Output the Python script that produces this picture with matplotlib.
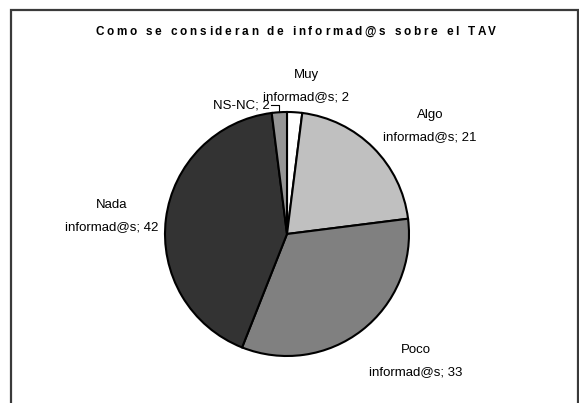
import numpy as np
import matplotlib
matplotlib.use("Agg")
import matplotlib.pyplot as plt
from matplotlib.patches import Rectangle
from matplotlib.font_manager import FontProperties

plt.rcParams['font.family'] = ['Liberation Sans', 'DejaVu Sans']

# Data
categories = ["Muy\ninformad@s", "Algo\ninformad@s", "Poco\ninformad@s", "Nada\ninformad@s", "NS-NC"]
values = [2, 21, 33, 42, 2]
colors = ["#FFFFFF", "#C0C0C0", "#808080", "#333333", "#969696"]
title = "Como se consideran de informad@s sobre el TAV"

W, H = 579, 403
fig = plt.figure(figsize=(W / 100, H / 100), dpi=100)

# frame around chart
fig.patches.append(Rectangle((10.5 / W, -0.05), (578 - 10.5) / W, (H - 10) / H + 0.05,
                             transform=fig.transFigure, fill=False,
                             edgecolor="#3a3a3a", linewidth=1.6))

cx, cy, r = 287, 234, 122
ax = fig.add_axes([(cx - r) / W, (H - cy - r) / H, 2 * r / W, 2 * r / H])
wedges, _ = ax.pie(values, colors=colors, startangle=90, counterclock=False,
                   wedgeprops=dict(edgecolor="black", linewidth=1.5))
ax.set_xlim(-1, 1)
ax.set_ylim(-1, 1)
ax.set_aspect("equal")
ax.axis("off")

# label positions (layout, relative to radius 1)
label_pos = [(0.156, 1.213), (1.172, 0.885), (1.057, -1.041), (-1.434, 0.148), (-0.377, 1.057)]
for cat, v, (lx, ly) in zip(categories, values, label_pos):
    ax.text(lx, ly, f"{cat}; {v}", ha="center", va="center", fontsize=9.5,
            linespacing=2.1, clip_on=False)

# leader line for NS-NC
total = sum(values)
start = 90 - 360 * sum(values[:-1]) / total
mid = np.deg2rad(start - 360 * values[-1] / total / 2)
ex, ey = np.cos(mid), np.sin(mid)
ax.plot([-0.128, ex, ex], [1.057, 1.057, ey], color="black", linewidth=0.8, clip_on=False)

# letter-spaced bold title
renderer = fig.canvas.get_renderer()
fp = FontProperties(family="Liberation Sans", weight="bold", size=8.5)
target_w = 400.0
def tw(s):
    if not s:
        return 0.0
    w, h, d = renderer.get_text_width_height_descent(s, fp, ismath=False)
    return w
plain_w = tw(title)
track = (target_w - plain_w) / (len(title) - 1)
x0 = 295 - target_w / 2
for i, ch in enumerate(title):
    if ch == " ":
        continue
    x = x0 + tw(title[:i]) + i * track
    fig.text(x / W, 1 - 32 / H, ch, ha="left", va="center", fontproperties=fp)

fig.savefig("out.png", dpi=100)
